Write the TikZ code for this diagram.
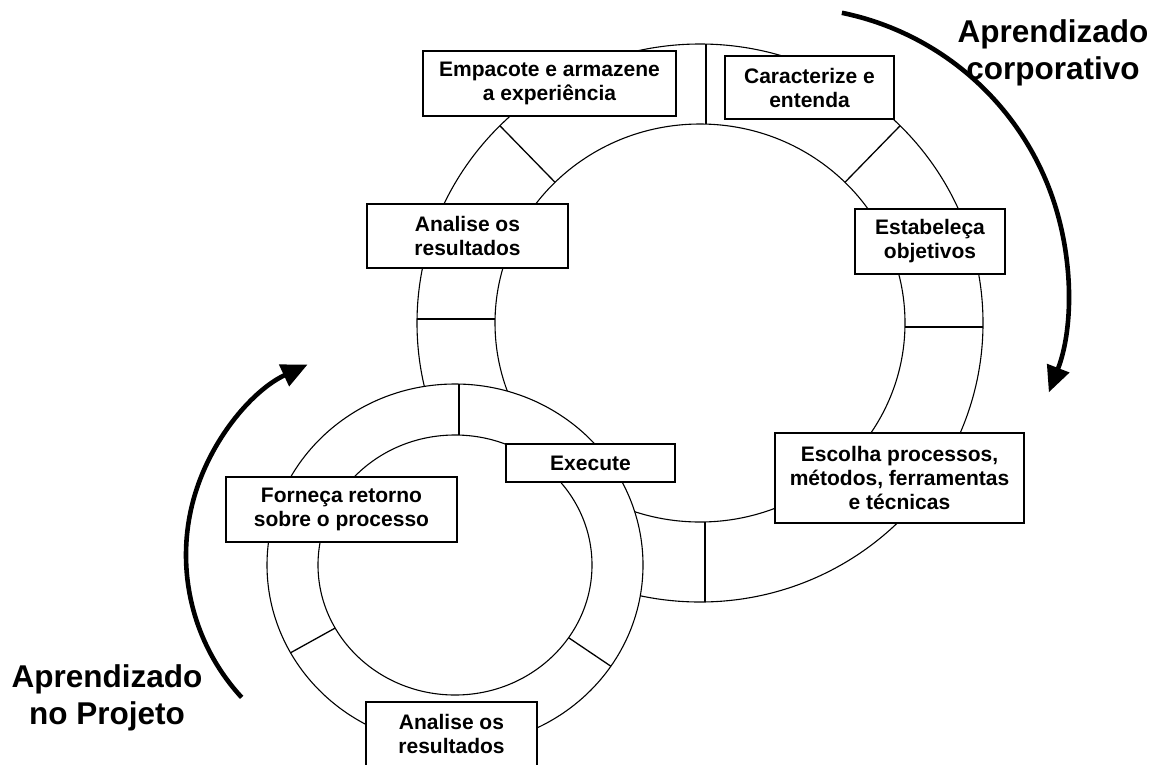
\documentclass[tikz,border=0pt]{standalone}
\usepackage{fontspec}
\setmainfont{Liberation Sans}
\usetikzlibrary{arrows.meta,calc}

\begin{document}
\begin{tikzpicture}[x=1pt,y=-1pt,
  ring/.style={line width=1.1pt},
  spoke/.style={line width=1.3pt},
  stage/.style={draw, fill=white, line width=1.6pt, align=center, inner sep=0pt,
    font=\fontsize{21}{24}\selectfont\bfseries},
  cycle label/.style={align=center, inner sep=0pt,
    font=\fontsize{31.5}{37.5}\selectfont\bfseries},
  loop arrow/.style={line width=4.6pt, -{Triangle[length=26pt,width=23pt]}}
]
\clip (0,0) rectangle (1161,764);
\fill[white] (0,0) rectangle (1161,764);

% centres of the two cycles and of the two learning arrows
\coordinate (BC) at (700,323);
\coordinate (SC) at (455,565);
\coordinate (CA) at (785,290);
\coordinate (PA) at (396,555);

% corporate cycle (large ring)
\draw[ring] (BC) ellipse [x radius=283, y radius=279];
\draw[ring] (BC) ellipse [x radius=205, y radius=199];
\draw[spoke] (706,44) -- (706,124);
\draw[spoke] ($(BC)+(-45:283 and 279)$) -- ($(BC)+(-45:205 and 199)$);
\draw[spoke] ($(BC)+(-135:283 and 279)$) -- ($(BC)+(-135:205 and 199)$);
\draw[spoke] (417,319) -- (495,319);
\draw[spoke] (905,327) -- (983,327);
\draw[spoke] (705,522) -- (705,602);

% project cycle (small ring, drawn over the large one)
\draw[ring, fill=white] (SC) ellipse [x radius=188, y radius=181];
\draw[ring] (SC) ellipse [x radius=137, y radius=130];
\draw[spoke] (459,384) -- (459,435);
\draw[spoke] ($(SC)+(151:188 and 181)$) -- ($(SC)+(151:137 and 130)$);
\draw[spoke] ($(SC)+(34:188 and 181)$) -- ($(SC)+(34:137 and 130)$);

% stages
\node[stage, minimum width=253pt, minimum height=65pt] (pack) at (549.5,83.5) {Empacote e armazene\\a experiência};
\node[stage, minimum width=169pt, minimum height=63pt] (charact) at (809.5,87.5) {Caracterize e\\entenda};
\node[stage, minimum width=150pt, minimum height=65pt] (goals) at (930,241.5) {Estabeleça\\objetivos};
\node[stage, minimum width=249pt, minimum height=90pt] (choose) at (899.5,478) {Escolha processos,\\métodos, ferramentas\\e técnicas};
\node[stage, minimum width=201pt, minimum height=64pt] (analyseA) at (467.5,236) {Analise os\\resultados};
\node[stage, minimum width=169pt, minimum height=38pt] (execute) at (590.5,463) {Execute};
\node[stage, minimum width=231pt, minimum height=65pt] (feedback) at (341.5,509.5) {Forneça retorno\\sobre o processo};
\node[stage, minimum width=171pt, minimum height=64pt] (analyseB) at (451.5,734) {Analise os\\resultados};

% learning arrows
\draw[loop arrow] ($(CA)+(-78.4:283)$) arc[start angle=-78.4, end angle=21.2, radius=283];
\draw[loop arrow] ($(PA)+(137.3:210)$) arc[start angle=137.3, end angle=245.1, radius=210];

\node[cycle label] (corp) at (1053,53) {Aprendizado\\corporativo};
\node[cycle label] (proj) at (107,698) {Aprendizado\\no Projeto};
\end{tikzpicture}
\end{document}
